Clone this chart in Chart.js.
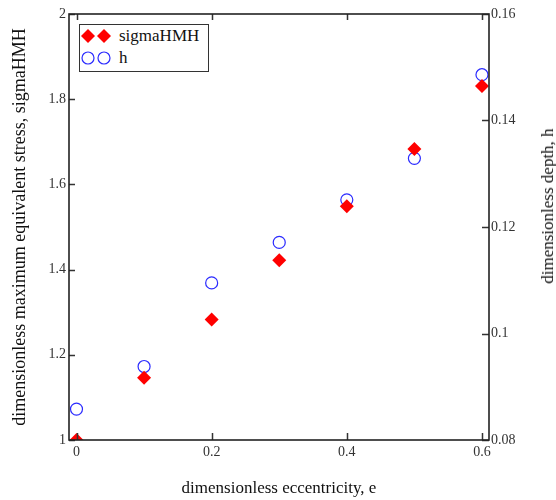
<!DOCTYPE html>
<html>
<head>
<meta charset="utf-8">
<script src="https://cdn.jsdelivr.net/npm/chart.js@4/dist/chart.umd.min.js"></script>
<style>
  html, body { margin: 0; padding: 0; background: #fff; }
  #wrap { position: relative; width: 556px; height: 500px; }
  #legend {
    position: absolute; left: 79px; top: 24px; width: 128px; height: 46px;
    border: 1px solid #333; background: #fff;
    font-family: "Liberation Serif", "Times New Roman", serif; font-size: 17px; color: #111;
  }
  #legend .row { position: absolute; left: 0; height: 20px; display: flex; align-items: center; }
  #legend svg { display: block; }
  #legend span { position: absolute; left: 39px; line-height: 20px; white-space: nowrap; }
  #rtitle {
    position: absolute; left: 548px; top: 206px; width: 0; height: 0;
  }
  #rtitle span {
    position: absolute; left: 0; top: 0; white-space: nowrap;
    font-family: "Liberation Serif", "Times New Roman", serif; font-size: 17px; color: #111;
    line-height: 20px;
    transform: translate(-50%, -50%) rotate(-90deg);
  }
</style>
</head>
<body>
<div id="wrap">
  <canvas id="c" width="556" height="500"></canvas>
  <div id="legend">
    <div class="row" style="top:1px;width:128px;">
      <svg width="36" height="20"><polygon points="8,3 15,10 8,17 1,10" fill="#ff0000"/><polygon points="24,3 31,10 24,17 17,10" fill="#ff0000"/></svg>
      <span>sigmaHMH</span>
    </div>
    <div class="row" style="top:23px;width:128px;">
      <svg width="36" height="20"><circle cx="8" cy="10" r="6" fill="none" stroke="#2b2bff" stroke-width="1.2"/><circle cx="24" cy="10" r="6" fill="none" stroke="#2b2bff" stroke-width="1.2"/></svg>
      <span>h</span>
    </div>
  </div>
  <div id="rtitle"><span>dimensionless depth, h</span></div>
</div>
<script>
// ---- data ----
const eccentricity = [0, 0.1, 0.2, 0.3, 0.4, 0.5, 0.6];
const sigmaHMH = [1.0, 1.146, 1.283, 1.422, 1.549, 1.683, 1.831];
const depthH = [0.0858, 0.0938, 0.1095, 0.1171, 0.1251, 0.1329, 0.1486];
const xTicks = [0, 0.2, 0.4, 0.6];
const leftTicks = [1, 1.2, 1.4, 1.6, 1.8, 2];
const rightTicks = [0.08, 0.1, 0.12, 0.14, 0.16];

const FONT = '"Liberation Serif", "Times New Roman", serif';

const frameAndTicks = {
  id: 'frameAndTicks',
  afterDraw(chart) {
    const ctx = chart.ctx;
    const a = chart.chartArea;
    const xs = chart.scales.x, yl = chart.scales.yL, yr = chart.scales.yR;
    ctx.save();
    ctx.strokeStyle = '#333';
    ctx.lineWidth = 1.5;
    ctx.beginPath();
    xTicks.forEach(v => {
      const px = Math.round(xs.getPixelForValue(v)) + 0.5;
      ctx.moveTo(px, a.bottom); ctx.lineTo(px, a.bottom - 7);
      ctx.moveTo(px, a.top); ctx.lineTo(px, a.top + 6);
    });
    leftTicks.forEach(v => {
      const py = Math.round(yl.getPixelForValue(v)) + 0.5;
      ctx.moveTo(a.left, py); ctx.lineTo(a.left + 6, py);
    });
    rightTicks.forEach(v => {
      const py = Math.round(yr.getPixelForValue(v)) + 0.5;
      ctx.moveTo(a.right, py); ctx.lineTo(a.right - 7, py);
    });
    ctx.stroke();
    ctx.strokeStyle = '#222';
    ctx.lineWidth = 1.6;
    ctx.strokeRect(a.left, a.top, a.right - a.left, a.bottom - a.top);
    ctx.restore();
  }
};

const noGrid = { display: false, drawTicks: false, tickLength: 0 };

new Chart(document.getElementById('c'), {
  type: 'scatter',
  data: {
    datasets: [
      {
        label: 'sigmaHMH',
        data: eccentricity.map((e, i) => ({ x: e, y: sigmaHMH[i] })),
        yAxisID: 'yL',
        pointStyle: 'rectRot',
        pointRadius: 7,
        pointBackgroundColor: '#ff0000',
        pointBorderColor: '#ff0000',
        pointBorderWidth: 0,
        showLine: false
      },
      {
        label: 'h',
        data: eccentricity.map((e, i) => ({ x: e, y: depthH[i] })),
        yAxisID: 'yR',
        pointStyle: 'circle',
        pointRadius: 6,
        pointBackgroundColor: 'rgba(0,0,0,0)',
        pointBorderColor: '#2b2bff',
        pointBorderWidth: 1.2,
        showLine: false
      }
    ]
  },
  options: {
    responsive: false,
    animation: false,
    events: [],
    layout: { padding: { top: 14, left: 0, right: 0, bottom: 0 } },
    plugins: { legend: { display: false }, tooltip: { enabled: false } },
    scales: {
      x: {
        type: 'linear',
        position: 'bottom',
        min: -0.0111,
        max: 0.6104,
        grid: noGrid,
        border: { display: false },
        afterBuildTicks(scale) { scale.ticks = xTicks.map(v => ({ value: v })); },
        afterFit(scale) { scale.height = 60; },
        ticks: {
          padding: 4,
          color: '#333',
          font: { family: FONT, size: 14 },
          callback: v => String(v)
        },
        title: {
          display: true,
          text: 'dimensionless eccentricity, e',
          color: '#111',
          font: { family: FONT, size: 17 },
          padding: { top: 0, bottom: 1 }
        }
      },
      yL: {
        type: 'linear',
        position: 'left',
        min: 1,
        max: 2,
        grid: noGrid,
        border: { display: false },
        afterBuildTicks(scale) { scale.ticks = leftTicks.map(v => ({ value: v })); },
        afterFit(scale) { scale.width = 69; },
        ticks: {
          padding: 3,
          color: '#333',
          font: { family: FONT, size: 14 },
          callback: v => String(v)
        },
        title: {
          display: true,
          text: 'dimensionless maximum equivalent stress, sigmaHMH',
          color: '#111',
          font: { family: FONT, size: 18 },
          padding: { top: 9, bottom: 0 }
        }
      },
      yR: {
        type: 'linear',
        position: 'right',
        min: 0.08,
        max: 0.16,
        grid: noGrid,
        border: { display: false },
        afterBuildTicks(scale) { scale.ticks = rightTicks.map(v => ({ value: v })); },
        afterFit(scale) { scale.width = 67; },
        ticks: {
          padding: 2,
          color: '#333',
          font: { family: FONT, size: 14 },
          callback: v => String(parseFloat(v.toFixed(2)))
        },
        title: { display: false }
      }
    }
  },
  plugins: [frameAndTicks]
});
</script>
</body>
</html>
